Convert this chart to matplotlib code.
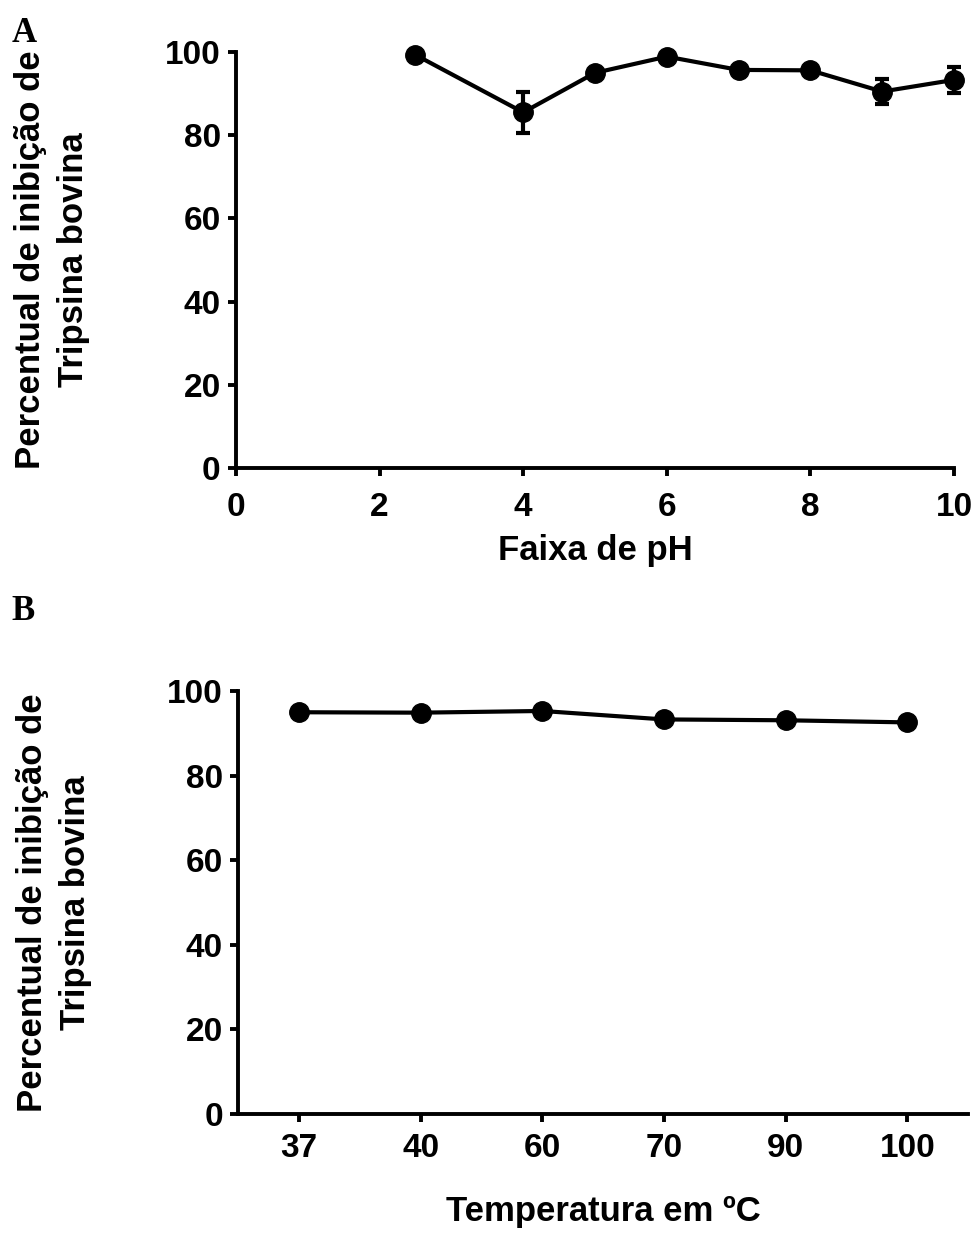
import numpy as np
import matplotlib.pyplot as plt

plt.rcParams['font.family'] = ['Liberation Sans', 'DejaVu Sans']
plt.rcParams['font.weight'] = 'bold'

# dados - painel A (pH)
ph = [2.5, 4, 5, 6, 7, 8, 9, 10]
inib_ph = [99.3, 85.5, 95.0, 98.9, 95.7, 95.6, 90.5, 93.3]
erro_ph = [0, 5.0, 0, 0, 0, 0, 3.1, 3.2]

# dados - painel B (temperatura)
temp = ['37', '40', '60', '70', '90', '100']
inib_temp = [95.0, 94.9, 95.3, 93.3, 93.1, 92.6]

ylabel = 'Percentual de inibição de\nTripsina bovina'

fig = plt.figure(figsize=(9.8, 12.33), dpi=100)
ax1 = fig.add_axes([0.2408, 0.6204, 0.7327, 0.3374])
ax2 = fig.add_axes([0.2429, 0.0965, 0.745, 0.343])


def estilo(ax, pad_x):
    for s in ['top', 'right']:
        ax.spines[s].set_visible(False)
    for s in ['left', 'bottom']:
        ax.spines[s].set_linewidth(2.8)
    ax.tick_params(width=2.8, length=6, labelsize=24, direction='out', pad=5)
    ax.tick_params(axis='x', pad=pad_x)
    for lab in ax.get_xticklabels() + ax.get_yticklabels():
        lab.set_fontweight('bold')
    ax.set_ylim(0, 100)
    ax.set_yticks([0, 20, 40, 60, 80, 100])
    ax.set_ylabel(ylabel, fontsize=25, fontweight='bold', linespacing=1.38)


# painel A
ax1.errorbar(ph, inib_ph, yerr=erro_ph, color='black', marker='o',
             markersize=14, linewidth=3, elinewidth=3, capsize=5,
             capthick=3, clip_on=False)
ax1.set_xlim(0, 10)
ax1.set_xticks([0, 2, 4, 6, 8, 10])
estilo(ax1, 11)
ax1.yaxis.set_label_coords(-0.204, 0.5)
ax1.set_xlabel('Faixa de pH', fontsize=25, fontweight='bold', labelpad=8)
fig.text(0.012, 0.966, 'A', family='Liberation Serif', fontsize=25,
         fontweight='bold')

# painel B
pos = np.arange(len(temp))
ax2.plot(pos, inib_temp, color='black', marker='o', markersize=14,
         linewidth=3, clip_on=False)
ax2.set_xlim(-0.5, 5.5)
ax2.set_xticks(pos)
ax2.set_xticklabels(temp)
estilo(ax2, 8)
ax2.yaxis.set_label_coords(-0.2, 0.5)
ax2.set_xlabel('Temperatura em ºC', fontsize=25, fontweight='bold',
               labelpad=22)
fig.text(0.012, 0.497, 'B', family='Liberation Serif', fontsize=25,
         fontweight='bold')

fig.savefig('out.png', dpi=100)
